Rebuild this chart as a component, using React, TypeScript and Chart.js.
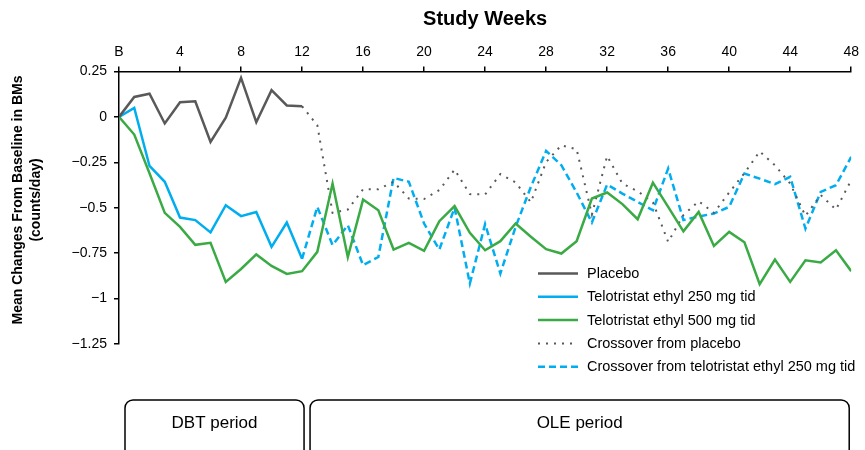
import React, { useEffect, useRef } from 'react';
import { Chart, registerables } from 'chart.js';

Chart.register(...registerables);

// ---- data ----
const dbtWeeks = [0, 1, 2, 3, 4, 5, 6, 7, 8, 9, 10, 11, 12];
const allWeeks = [
  0, 1, 2, 3, 4, 5, 6, 7, 8, 9, 10, 11, 12, 13, 14, 15, 16, 17, 18, 19, 20, 21, 22, 23, 24,
  25, 26, 27, 28, 29, 30, 31, 32, 33, 34, 35, 36, 37, 38, 39, 40, 41, 42, 43, 44, 45, 46, 47, 48,
];
const oleWeeks = [
  12, 13, 14, 15, 16, 17, 18, 19, 20, 21, 22, 23, 24, 25, 26, 27, 28, 29, 30, 31, 32, 33, 34, 35,
  36, 37, 38, 39, 40, 41, 42, 43, 44, 45, 46, 47, 48,
];

const placebo = [0, 0.11, 0.128, -0.036, 0.081, 0.086, -0.138, -0.004, 0.215, -0.029, 0.147, 0.063, 0.059];
const telo250 = [0, 0.05, -0.27, -0.357, -0.554, -0.568, -0.636, -0.486, -0.546, -0.523, -0.715, -0.581, -0.781];
const telo500 = [
  0, -0.097, -0.31, -0.528, -0.605, -0.704, -0.693, -0.908, -0.837, -0.757, -0.82, -0.864, -0.849,
  -0.743, -0.367, -0.771, -0.455, -0.514, -0.73, -0.693, -0.737, -0.574, -0.491, -0.638, -0.734,
  -0.684, -0.587, -0.66, -0.728, -0.752, -0.684, -0.449, -0.416, -0.48, -0.563, -0.362, -0.495,
  -0.63, -0.523, -0.71, -0.633, -0.69, -0.921, -0.785, -0.908, -0.789, -0.801, -0.734, -0.849,
];
const crossPlacebo = [
  0.059, -0.046, -0.528, -0.51, -0.398, -0.398, -0.357, -0.449, -0.452, -0.403, -0.29, -0.425,
  -0.427, -0.315, -0.361, -0.47, -0.248, -0.156, -0.178, -0.537, -0.215, -0.367, -0.409, -0.47,
  -0.688, -0.54, -0.464, -0.528, -0.416, -0.31, -0.19, -0.266, -0.367, -0.545, -0.43, -0.51, -0.348,
];
const crossTelo250 = [
  -0.781, -0.495, -0.706, -0.596, -0.816, -0.771, -0.336, -0.357, -0.587, -0.73, -0.5, -0.917,
  -0.59, -0.862, -0.605, -0.385, -0.187, -0.266, -0.416, -0.581, -0.372, -0.422, -0.468, -0.514,
  -0.284, -0.568, -0.548, -0.532, -0.495, -0.312, -0.34, -0.37, -0.33, -0.615, -0.413, -0.376, -0.22,
];

const seriesLabels = [
  'Placebo',
  'Telotristat ethyl 250 mg tid',
  'Telotristat ethyl 500 mg tid',
  'Crossover from placebo',
  'Crossover from telotristat ethyl 250 mg tid',
];
const xTitle = 'Study Weeks';
const yTitle = ['Mean Changes From Baseline in BMs', '(counts/day)'];
const periodLabels = ['DBT period', 'OLE period'];
const periodStart = [0, 12];
const periodEnd = [12, 48];

const FONT = '"Liberation Sans", Arial, Helvetica, sans-serif';

const toPoints = (xs: number[], ys: number[]) => ys.map((y, i) => ({ x: xs[i], y }));

const overlayPlugin = {
  id: 'overlay',
  afterDraw(chart: any) {
    const ctx = chart.ctx as CanvasRenderingContext2D;
    const { left, right } = chart.chartArea;
    const xs = chart.scales.x;
    ctx.save();
    ctx.fillStyle = '#000';
    // x title
    ctx.font = `bold 20px ${FONT}`;
    ctx.textAlign = 'center';
    ctx.textBaseline = 'middle';
    ctx.fillText(xTitle, (left + right) / 2, 19);
    // y title
    ctx.save();
    ctx.translate(27, 200);
    ctx.rotate(-Math.PI / 2);
    ctx.font = `bold 14px ${FONT}`;
    ctx.fillText(yTitle[0], 0, -9);
    ctx.fillText(yTitle[1], 0, 9);
    ctx.restore();

    // legend
    const lx0 = 538;
    const lx1 = 578;
    const ly0 = 273.5;
    const lstep = 23.3;
    ctx.font = `14.5px ${FONT}`;
    ctx.textAlign = 'left';
    ctx.textBaseline = 'middle';
    chart.data.datasets.forEach((ds: any, i: number) => {
      const y = ly0 + i * lstep;
      ctx.save();
      ctx.strokeStyle = ds.borderColor;
      ctx.lineWidth = ds.borderWidth;
      ctx.setLineDash(ds.borderDash || []);
      ctx.lineCap = 'butt';
      ctx.beginPath();
      ctx.moveTo(lx0, y);
      ctx.lineTo(lx1, y);
      ctx.stroke();
      ctx.restore();
      ctx.fillStyle = '#000';
      ctx.fillText(ds.label, 587, y + 0.5);
    });

    // period boxes
    ctx.strokeStyle = '#000';
    ctx.lineWidth = 1.5;
    ctx.setLineDash([]);
    const boxTop = 400;
    const boxBottom = 458;
    const offsL = [6, 8];
    const offsR = [2, -2];
    periodLabels.forEach((lab, i) => {
      const bx0 = xs.getPixelForValue(periodStart[i]) + offsL[i];
      const bx1 = xs.getPixelForValue(periodEnd[i]) + offsR[i];
      ctx.beginPath();
      (ctx as any).roundRect(bx0, boxTop, bx1 - bx0, boxBottom - boxTop, 8);
      ctx.stroke();
      ctx.fillStyle = '#000';
      ctx.font = `17px ${FONT}`;
      ctx.textAlign = 'center';
      ctx.textBaseline = 'middle';
      ctx.fillText(lab, (bx0 + bx1) / 2, 423);
    });
    ctx.restore();
  },
};

export default function App() {
  const canvasRef = useRef<HTMLCanvasElement | null>(null);

  useEffect(() => {
    if (!canvasRef.current) return;
    const chart = new Chart(canvasRef.current, {
      type: 'line',
      data: {
        datasets: [
          {
            label: seriesLabels[0],
            data: toPoints(dbtWeeks, placebo),
            borderColor: '#595959',
            borderWidth: 2.5,
            pointRadius: 0,
          },
          {
            label: seriesLabels[1],
            data: toPoints(dbtWeeks, telo250),
            borderColor: '#00AEEF',
            borderWidth: 2.5,
            pointRadius: 0,
          },
          {
            label: seriesLabels[2],
            data: toPoints(allWeeks, telo500),
            borderColor: '#3AAA44',
            borderWidth: 2.5,
            pointRadius: 0,
          },
          {
            label: seriesLabels[3],
            data: toPoints(oleWeeks, crossPlacebo),
            borderColor: '#595959',
            borderWidth: 2,
            borderDash: [2, 6],
            pointRadius: 0,
          },
          {
            label: seriesLabels[4],
            data: toPoints(oleWeeks, crossTelo250),
            borderColor: '#00AEEF',
            borderWidth: 2.5,
            borderDash: [7, 4],
            pointRadius: 0,
          },
        ],
      },
      options: {
        animation: false,
        responsive: true,
        maintainAspectRatio: false,
        layout: { padding: { left: 0, top: 0, right: 10, bottom: 106 } },
        elements: { line: { tension: 0, fill: false } },
        plugins: {
          legend: { display: false },
          tooltip: { enabled: false },
        },
        scales: {
          x: {
            type: 'linear',
            position: 'top',
            min: 0,
            max: 48,
            afterFit: (scale: any) => {
              scale.height = 71.5;
            },
            ticks: {
              stepSize: 4,
              color: '#000',
              padding: 6,
              font: { family: FONT, size: 14 },
              callback: (v: any) => (v === 0 ? 'B' : String(v)),
              maxRotation: 0,
            },
            grid: { drawOnChartArea: false, drawTicks: true, tickLength: 5, color: '#000', lineWidth: 1.5 },
            border: { display: true, color: '#000', width: 1.5 },
          },
          y: {
            type: 'linear',
            min: -1.25,
            max: 0.25,
            afterFit: (scale: any) => {
              scale.width = 119;
            },
            ticks: {
              stepSize: 0.25,
              color: '#000',
              padding: 7,
              font: { family: FONT, size: 14 },
              callback: (v: any) => (v < 0 ? '\u2212' + String(Math.abs(v)) : String(v)),
            },
            grid: { drawOnChartArea: false, drawTicks: true, tickLength: 5, color: '#000', lineWidth: 1.5 },
            border: { display: true, color: '#000', width: 1.5 },
          },
        },
      },
      plugins: [overlayPlugin],
    } as any);
    return () => chart.destroy();
  }, []);

  return (
    <div style={{ position: 'absolute', left: 0, top: 0, width: 865, height: 450, background: '#fff' }}>
      <canvas ref={canvasRef} />
    </div>
  );
}
